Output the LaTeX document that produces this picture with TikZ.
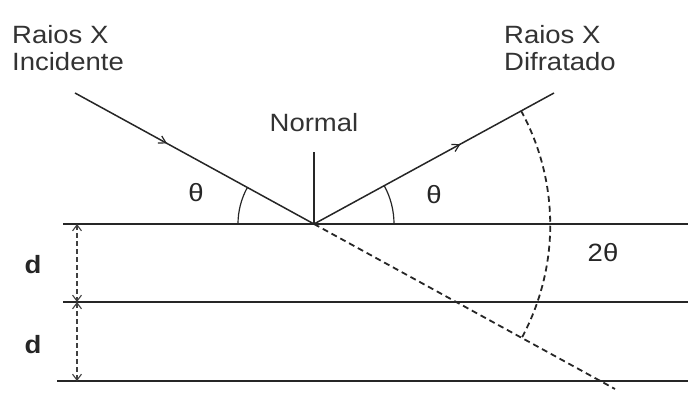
\documentclass[tikz,border=0pt]{standalone}
\usepackage{fontspec}
\setmainfont{Liberation Sans}[FakeStretch=1.1]
\usetikzlibrary{arrows.meta,decorations.markings,calc}
\begin{document}
\begin{tikzpicture}[x=1pt,y=1pt,
  plane/.style={line width=1.8pt, draw=black!85},
  ray/.style={line width=1.5pt, draw=black!85},
  thin/.style={line width=1.2pt, draw=black!85},
  midtip/.style={postaction={decorate},decoration={markings,
     mark=at position #1 with {\arrow{Straight Barb[length=7pt,width=8pt,line width=1.2pt]}}}},
  dimline/.style={line width=1.2pt, draw=black!75, dash pattern=on 5pt off 3pt,
     {Straight Barb[length=6pt,width=9pt,line width=1.1pt]}-{Straight Barb[length=6pt,width=9pt,line width=1.1pt]}},
  bigdash/.style={line width=1.8pt, draw=black!85, dash pattern=on 6pt off 4pt},
  lbl/.style={font=\fontsize{25}{27}\selectfont, text=black!80, inner sep=0pt, align=left},
  sym/.style={font=\fontsize{25}{25}\selectfont, text=black!85, inner sep=0pt},
  dsym/.style={font=\fontsize{25}{25}\selectfont\bfseries, text=black!85, inner sep=0pt}
]
\useasboundingbox (0,0) rectangle (688,394);
% coordinates
\coordinate (O) at (314,170);
\coordinate (A) at (75,301);
\coordinate (B) at (554,301);
\coordinate (N) at (314,242);
\coordinate (E) at (615,5);
\coordinate (T1) at (63,170);  \coordinate (T2) at (688,170);
\coordinate (M1) at (63,92);   \coordinate (M2) at (688,92);
\coordinate (L1) at (57,13);   \coordinate (L2) at (688,13);
\coordinate (DT) at (77,170);  \coordinate (DM) at (77,92); \coordinate (DB) at (77,13);
% planes
\draw[plane] (T1) -- (T2);
\draw[plane] (M1) -- (M2);
\draw[plane] (L1) -- (L2);
% rays
\draw[ray, midtip=0.385] (A) -- (O);
\draw[ray, midtip=0.61] (O) -- (B);
\draw[thin] (O) -- (N);
\draw[bigdash] (O) -- (E);
% angle arcs
\draw[thin] ($(O)+(180-28.7:76)$) arc[start angle=180-28.7, end angle=180, radius=76];
\draw[thin] ($(O)+(0:80)$) arc[start angle=0, end angle=28.7, radius=80];
\draw[bigdash] ($(O)+(28.7:236)$) arc[start angle=28.7, end angle=-28.7, radius=238];
% d dimensions
\draw[dimline] (DT) -- (DM);
\draw[dimline] (DM) -- (DB);
% labels
\node[lbl, anchor=north west] (inc) at (12,369) {Raios X\\Incidente};
\node[lbl, anchor=north west] (dif) at (504,369) {Raios X\\Difratado};
\node[lbl, anchor=base] (nor) at (314,262) {Normal};
\node[sym] (t1) at (196,201) {θ};
\node[sym] (t2) at (434,199) {θ};
\node[sym] (t3) at (603,141) {2θ};
\node[dsym] (d1) at (33,129) {d};
\node[dsym] (d2) at (33,49) {d};
\end{tikzpicture}
\end{document}
